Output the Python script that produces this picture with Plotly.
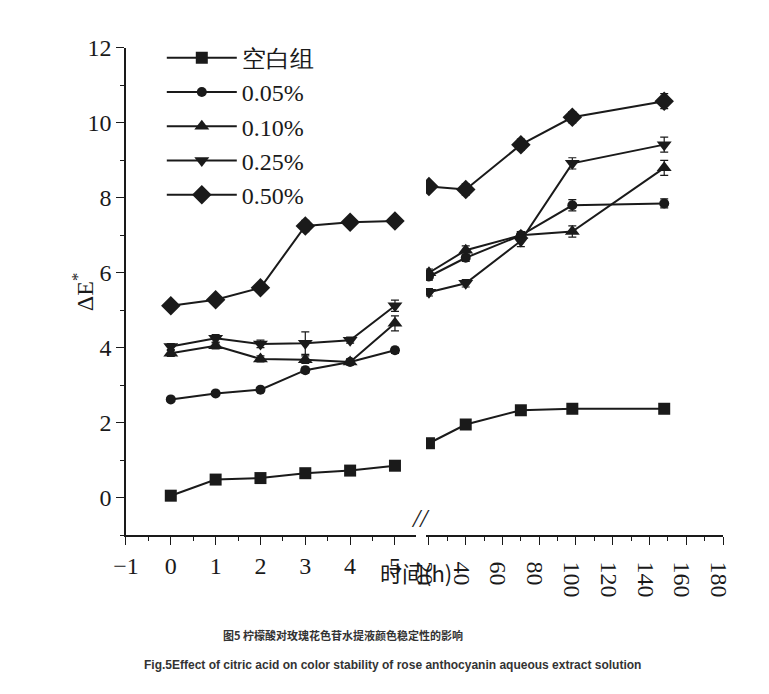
import plotly.graph_objects as go

x_left = [0, 1, 2, 3, 4, 5]
x_right = [20, 40, 70, 98, 148]
names = ["空白组", "0.05%", "0.10%", "0.25%", "0.50%"]
symbols = ["square", "circle", "triangle-up", "triangle-down", "diamond"]
left_vals = [
    [0.05, 0.48, 0.52, 0.65, 0.72, 0.85],
    [2.62, 2.78, 2.88, 3.40, 3.62, 3.93],
    [3.85, 4.05, 3.70, 3.68, 3.62, 4.65],
    [4.03, 4.25, 4.10, 4.12, 4.20, 5.12],
    [5.12, 5.28, 5.60, 7.25, 7.35, 7.38],
]
right_vals = [
    [1.45, 1.95, 2.33, 2.37, 2.37],
    [5.90, 6.40, 7.00, 7.80, 7.85],
    [6.00, 6.60, 7.00, 7.10, 8.80],
    [5.48, 5.72, 6.85, 8.92, 9.42],
    [8.30, 8.22, 9.42, 10.15, 10.58],
]
left_err = [
    [0.03, 0.03, 0.03, 0.03, 0.03, 0.05],
    [0.05, 0.05, 0.05, 0.08, 0.05, 0.08],
    [0.08, 0.08, 0.08, 0.1, 0.08, 0.2],
    [0.08, 0.1, 0.1, 0.3, 0.08, 0.15],
    [0.08, 0.08, 0.1, 0.15, 0.08, 0.12],
]
right_err = [
    [0.05, 0.05, 0.08, 0.05, 0.05],
    [0.1, 0.1, 0.1, 0.15, 0.12],
    [0.1, 0.12, 0.1, 0.15, 0.2],
    [0.1, 0.1, 0.15, 0.15, 0.2],
    [0.1, 0.15, 0.15, 0.15, 0.2],
]
sizes = [12, 10, 13, 13, 15]

fig = go.Figure()
for i in range(5):
    fig.add_trace(go.Scatter(x=x_left, y=left_vals[i], name=names[i], mode="lines+markers",
        line=dict(color="#1a1a1a", width=2), marker=dict(symbol=symbols[i], size=sizes[i], color="#1a1a1a"),
        error_y=dict(type="data", array=left_err[i], color="#1a1a1a", thickness=1.2, width=4),
        xaxis="x", yaxis="y"))
    fig.add_trace(go.Scatter(x=x_right, y=right_vals[i], name=names[i], mode="lines+markers", showlegend=False,
        line=dict(color="#1a1a1a", width=2), marker=dict(symbol=symbols[i], size=sizes[i], color="#1a1a1a"),
        error_y=dict(type="data", array=right_err[i], color="#1a1a1a", thickness=1.2, width=4),
        xaxis="x2", yaxis="y"))

font = dict(family="Liberation Serif", size=24, color="#1a1a1a")
axcommon = dict(showline=True, linecolor="#1a1a1a", linewidth=1.5, ticks="outside", ticklen=8,
                tickcolor="#1a1a1a", showgrid=False, zeroline=False, tickfont=font)
fig.update_layout(
    width=769, height=694, margin=dict(l=0, r=0, t=0, b=0, autoexpand=False),
    paper_bgcolor="white", plot_bgcolor="white", font=font,
    xaxis=dict(domain=[0.1534, 0.5306], range=[-1, 5.47], dtick=1, anchor="y",
               minor=dict(dtick=0.5, ticks="outside", ticklen=4, tickcolor="#1a1a1a"), **axcommon),
    xaxis2=dict(domain=[0.5436, 0.9298], range=[18.4, 180], tickvals=[20, 40, 60, 80, 100, 120, 140, 160, 180],
                anchor="y", minor=dict(dtick=10, ticks="outside", ticklen=4, tickcolor="#1a1a1a"), **axcommon),
    yaxis=dict(domain=[0.2406, 0.9424], range=[-1, 12], dtick=2, anchor="x",
               minor=dict(dtick=1, ticks="outside", ticklen=4, tickcolor="#1a1a1a"), **axcommon),
    legend=dict(x=0.2, y=0.96, xanchor="left", yanchor="top", bgcolor="rgba(0,0,0,0)",
                font=dict(family="Liberation Serif", size=24, color="#1a1a1a"), tracegroupgap=0, itemwidth=70),
    showlegend=True,
)
fig.add_annotation(text="ΔE<sup>*</sup>", x=0.075, y=0.59, xref="paper", yref="paper", textangle=-90,
                   showarrow=False, font=font)
fig.add_annotation(text="时间(h)", x=0.53, y=0.162, xref="paper", yref="paper", showarrow=False,
                   font=dict(family="Noto Sans CJK SC", size=22, color="#1a1a1a"))
fig.add_annotation(text="<i>//</i>", x=0.537, y=0.2406, xref="paper", yref="paper", showarrow=False,
                   font=dict(family="Liberation Serif", size=26, color="#1a1a1a"))
fig.add_annotation(text="<b>图5 柠檬酸对玫瑰花色苷水提液颜色稳定性的影响</b>", x=0.435, y=0.082, xref="paper", yref="paper",
                   showarrow=False, font=dict(family="Noto Sans CJK SC", size=11, color="#333"))
fig.add_annotation(text="<b>Fig.5Effect of citric acid on color stability of rose anthocyanin aqueous extract solution</b>",
                   x=0.5, y=0.04, xref="paper", yref="paper", showarrow=False,
                   font=dict(family="Liberation Sans", size=12, color="#333"))
fig.write_html("out.html")
